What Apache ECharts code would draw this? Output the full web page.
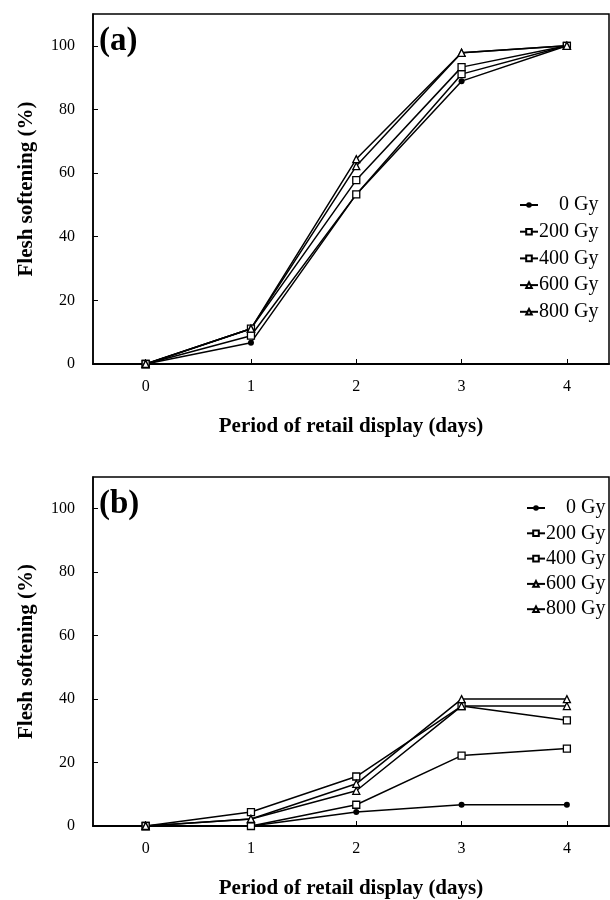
<!DOCTYPE html>
<html>
<head>
<meta charset="utf-8">
<script src="https://cdn.jsdelivr.net/npm/echarts@6/dist/echarts.min.js"></script>
<style>
  html, body { margin: 0; padding: 0; background: #fff; }
  #box { width: 610px; height: 900px; }
</style>
</head>
<body>
<div id="box"></div>
<script>
// days on the x axis
const days = [0, 1, 2, 3, 4];
const doses = ['    0 Gy', '200 Gy', '400 Gy', '600 Gy', '800 Gy'];
const yTicks = [0, 20, 40, 60, 80, 100];

// panel (a)
const a0 = [0, 6.7, 53.3, 88.9, 100];
const a200 = [0, 8.9, 53.3, 91.1, 100];
const a400 = [0, 11.1, 57.8, 93.3, 100];
const a600 = [0, 11.1, 62.2, 97.8, 100];
const a800 = [0, 11.1, 64.4, 97.8, 100];

// panel (b)
const b0 = [0, 0, 4.4, 6.7, 6.7];
const b200 = [0, 0, 6.7, 22.2, 24.4];
const b400 = [0, 4.4, 15.6, 37.8, 33.3];
const b600 = [0, 2.2, 11.1, 37.8, 37.8];
const b800 = [0, 2.2, 13.3, 40, 40];

const font = "'Liberation Serif', 'Times New Roman', serif";
const symbols = ['circle', 'rect', 'rect', 'triangle', 'triangle'];

const mkSeries = (vals, i, idx) => ({
  name: doses[i],
  type: 'line',
  xAxisIndex: idx,
  yAxisIndex: idx,
  data: days.map((d, k) => [d, vals[k]]),
  symbol: symbols[i],
  symbolSize: i === 0 ? 6 : 7,
  showAllSymbol: true,
  lineStyle: { color: '#000', width: 1.5 },
  itemStyle: {
    color: i === 0 ? '#000' : '#fff',
    borderColor: '#000',
    borderWidth: i === 0 ? 0 : 1.3
  },
  emphasis: { disabled: true },
  animation: false
})

const xAx = (gi) => ({
  type: 'value',
  gridIndex: gi,
  min: -0.5,
  max: 4.4,
  name: 'Period of retail display (days)',
  nameLocation: 'middle',
  nameGap: 52,
  nameTextStyle: { fontFamily: font, fontWeight: 'bold', fontSize: 21, color: '#000' },
  axisLine: { onZero: false, lineStyle: { color: '#000', width: 2 } },
  axisTick: { inside: true, length: 5, customValues: days, lineStyle: { color: '#000' } },
  axisLabel: { customValues: days, margin: 15, fontFamily: font, fontSize: 16, color: '#000' },
  splitLine: { show: false }
})

const yAx = (gi) => ({
  type: 'value',
  gridIndex: gi,
  min: 0,
  max: 110,
  name: 'Flesh softening (%)',
  nameLocation: 'middle',
  nameGap: 56,
  nameTextStyle: { fontFamily: font, fontWeight: 'bold', fontSize: 21, color: '#000' },
  axisLine: { onZero: false, lineStyle: { color: '#000', width: 1.5 } },
  axisTick: { inside: true, length: 5, customValues: yTicks, lineStyle: { color: '#000' } },
  axisLabel: { customValues: yTicks, margin: 18, fontFamily: font, fontSize: 16, color: '#000' },
  splitLine: { show: false }
})

const legendStyle = {
  orient: 'vertical',
  itemWidth: 18,
  itemHeight: 7,
  data: doses,
  selectedMode: false,
  textStyle: { fontFamily: font, fontSize: 20, color: '#000', padding: [0, 0, 0, -4] }
}

const chartDom = document.getElementById('box');
const myChart = echarts.init(chartDom);

var option = {
  animation: false,
  title: [
    { text: '(a)', left: 99, top: 25, padding: 0, textStyle: { fontFamily: font, fontWeight: 'bold', fontSize: 33, color: '#000' } },
    { text: '(b)', left: 99, top: 488, padding: 0, textStyle: { fontFamily: font, fontWeight: 'bold', fontSize: 33, color: '#000' } }
  ],
  legend: [
    Object.assign({ left: 514, top: 190, itemGap: 6.7 }, legendStyle),
    Object.assign({ left: 521, top: 493, itemGap: 5.3 }, legendStyle)
  ],
  grid: [
    { left: 93, top: 14, width: 516, height: 350, show: true, borderColor: '#000', borderWidth: 1.5 },
    { left: 93, top: 477, width: 516, height: 349, show: true, borderColor: '#000', borderWidth: 1.5 }
  ],
  xAxis: [xAx(0), xAx(1)],
  yAxis: [yAx(0), yAx(1)],
  series: [
    mkSeries(a0, 0, 0), mkSeries(a200, 1, 0), mkSeries(a400, 2, 0), mkSeries(a600, 3, 0), mkSeries(a800, 4, 0),
    mkSeries(b0, 0, 1), mkSeries(b200, 1, 1), mkSeries(b400, 2, 1), mkSeries(b600, 3, 1), mkSeries(b800, 4, 1)
  ]
}
option && myChart.setOption(option);
</script>
</body>
</html>
